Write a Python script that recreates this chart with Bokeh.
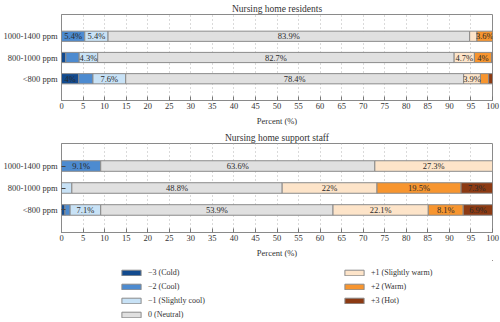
from bokeh.plotting import figure
from bokeh.models import ColumnDataSource, FactorRange, Range1d, Legend, LegendItem, FixedTicker
from bokeh.layouts import column
from bokeh.embed import file_html
from bokeh.resources import INLINE
from bokeh.core.properties import value

FONT = "Liberation Serif"

rows = ["<800 ppm", "800-1000 ppm", "1000-1400 ppm"]
levels = ["\u22123 (Cold)", "\u22122 (Cool)", "\u22121 (Slightly cool)", "0 (Neutral)",
          "+1 (Slightly warm)", "+2 (Warm)", "+3 (Hot)"]
colors = ["#124a8e", "#4d8bd0", "#c8e2f6", "#e0e0e0", "#fde4c9", "#f7952f", "#8c3a13"]
ticks = list(range(0, 101, 5))

# Nursing home residents (per row: <800, 800-1000, 1000-1400)
res_m3 = [4.0, 1.0, 0.0]
res_m2 = [3.3, 3.1, 5.4]
res_m1 = [7.6, 4.3, 5.4]
res_0 = [78.4, 82.7, 83.9]
res_p1 = [3.9, 4.7, 1.7]
res_p2 = [1.9, 4.0, 3.6]
res_p3 = [0.9, 0.2, 0.0]

# Nursing home support staff
stf_m3 = [0.8, 0.0, 0.0]
stf_m2 = [1.2, 0.0, 9.1]
stf_m1 = [7.1, 2.4, 0.0]
stf_0 = [53.9, 48.8, 63.6]
stf_p1 = [22.1, 22.0, 27.3]
stf_p2 = [8.1, 19.5, 0.0]
stf_p3 = [6.9, 7.3, 0.0]

residents = [res_m3, res_m2, res_m1, res_0, res_p1, res_p2, res_p3]
staff = [stf_m3, stf_m2, stf_m1, stf_0, stf_p1, stf_p2, stf_p3]

TXT = "#333333"
EDGE = "#8a8a8a"


def make_chart(title, series, height, top, bottom, yticks):
    p = figure(width=500, height=height, title=title,
               y_range=FactorRange(*rows, range_padding=0.35),
               x_range=Range1d(0, 100),
               output_backend="svg", toolbar_location=None,
               min_border_left=58, min_border_right=8,
               min_border_top=top, min_border_bottom=bottom)
    p.title.align = "center"
    p.title.text_font = FONT
    p.title.text_font_size = "9.5px"
    p.title.text_font_style = "normal"
    p.title.text_color = TXT
    p.title.standoff = 2

    ys, lefts, rights, mids, cols, labels = [], [], [], [], [], []
    for ri, r in enumerate(rows):
        cum = 0.0
        for li, s in enumerate(series):
            v = s[ri]
            if v > 0:
                ys.append(r)
                lefts.append(cum)
                rights.append(cum + v)
                mids.append(cum + v / 2)
                cols.append(colors[li])
                labels.append(f"{v:g}%" if v >= 3.5 else "")
            cum += v
    src = ColumnDataSource(dict(y=ys, left=lefts, right=rights, mid=mids, color=cols, label=labels))
    p.hbar(y="y", left="left", right="right", height=0.48, fill_color="color",
           line_color=EDGE, line_width=1, source=src)
    p.text(x="mid", y="y", text="label", text_align="center", text_baseline="middle",
           text_font=value(FONT), text_font_size="8.5px", text_color="#2a2a2a", source=src)

    p.ygrid.visible = False
    p.xgrid.ticker = FixedTicker(ticks=ticks)
    p.xgrid.grid_line_color = "#b5b5b5"
    p.xgrid.grid_line_dash = "1 3"
    p.outline_line_color = EDGE
    p.outline_line_width = 1

    xa = p.xaxis[0]
    xa.ticker = FixedTicker(ticks=ticks)
    xa.axis_label = "Percent (%)"
    xa.axis_label_text_font = FONT
    xa.axis_label_text_font_size = "8.5px"
    xa.axis_label_text_font_style = "normal"
    xa.axis_label_text_color = TXT
    xa.axis_label_standoff = 4
    xa.major_label_text_font = FONT
    xa.major_label_text_font_size = "8.5px"
    xa.major_label_text_color = TXT
    xa.major_label_standoff = 2
    xa.major_tick_in = 4
    xa.major_tick_out = 0
    xa.major_tick_line_color = "#777777"
    xa.minor_tick_line_color = None
    xa.axis_line_color = EDGE

    ya = p.yaxis[0]
    ya.major_label_text_font = FONT
    ya.major_label_text_font_size = "8.5px"
    ya.major_label_text_color = TXT
    ya.major_label_standoff = 4
    ya.axis_line_color = EDGE
    ya.minor_tick_line_color = None
    ya.major_tick_out = 0
    if yticks:
        ya.major_tick_in = 4
        ya.major_tick_line_color = "#444444"
    else:
        ya.major_tick_in = 0
        ya.major_tick_line_color = None
    return p


p1 = make_chart("Nursing home residents", residents, 128, 13, 26, False)
p2 = make_chart("Nursing home support staff", staff, 132, 15, 25, True)

p3 = figure(width=500, height=62, x_range=(0, 1), y_range=(0, 1),
            output_backend="svg", toolbar_location=None,
            x_axis_location=None, y_axis_location=None, min_border=0)
p3.grid.visible = False
p3.outline_line_color = None
items = []
for lvl, c in zip(levels, colors):
    # a point outside the visible range, used only for its legend swatch
    r = p3.hbar(y=[5], left=[5], right=[6], height=0.5, fill_color=c, line_color=EDGE, line_width=1)
    items.append(LegendItem(label=lvl, renderers=[r]))


def make_legend(its, loc):
    lg = Legend(items=its, location=loc, orientation="vertical",
                glyph_width=24, glyph_height=7, label_height=11, spacing=3,
                label_standoff=5, padding=0, margin=0,
                label_text_font=FONT, label_text_font_size="8px", label_text_color=TXT,
                border_line_alpha=0, background_fill_alpha=0)
    return lg


p3.add_layout(make_legend(items[:4], (58, 2)), "center")
p3.add_layout(make_legend(items[4:], (281, 16)), "center")

layout = column(p1, p2, p3)
open("out.html", "w").write(file_html(layout, INLINE))
